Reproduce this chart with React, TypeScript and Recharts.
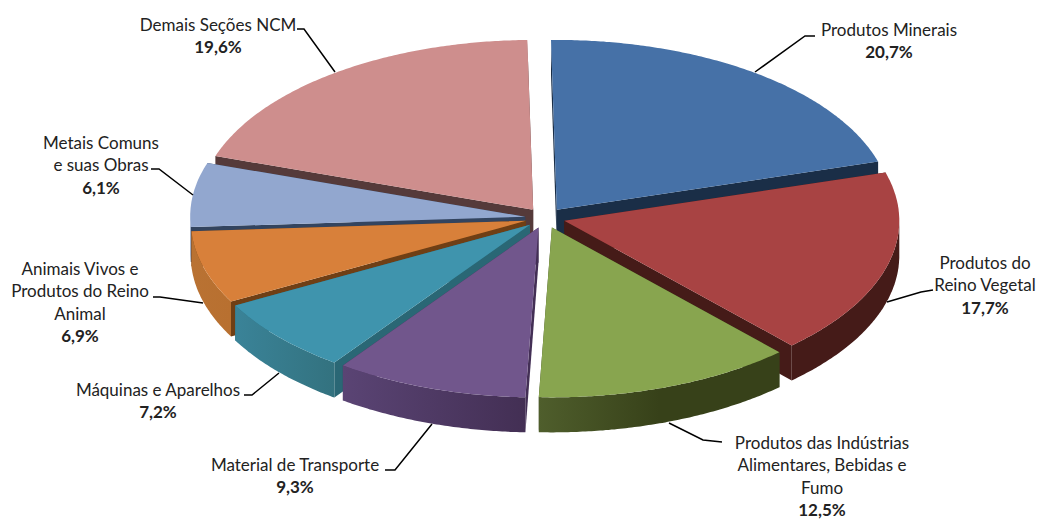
import { PieChart, Pie, Cell } from "recharts"

// right half of the pie, clockwise from the top
const rightNames = ["Produtos Minerais", "Produtos do\nReino Vegetal", "Produtos das Indústrias\nAlimentares, Bebidas e\nFumo"]
const rightValues = [20.7, 17.7, 12.5]
// left half, counter-clockwise from the top
const leftNames = ["Demais Seções NCM", "Metais Comuns\ne suas Obras", "Animais Vivos e\nProdutos do Reino\nAnimal", "Máquinas e Aparelhos", "Material de Transporte"]
const leftValues = [19.6, 6.1, 6.9, 7.2, 9.3]

const rightData = rightNames.map((name, i) => ({ name, value: rightValues[i] }))
const leftData = leftNames.map((name, i) => ({ name, value: leftValues[i] }))

const CX = 545
const CY = 218
const RX = 335
const TILT = 0.507
const DEPTH = 35
const EXPLODE = 20
const TOP_ANGLE = 91
const LINE_GAP = 22.6

const styles: Record<string, { top: string; cut: string; wall: [string, string]; mid: number }> = {
  "Produtos Minerais": { top: "#4671a7", cut: "#1a2e47", wall: ["#1a2e47", "#1a2e47"], mid: 100 },
  "Produtos do\nReino Vegetal": { top: "#a84343", cut: "#451b18", wall: ["#451b18", "#451b18"], mid: 100 },
  "Produtos das Indústrias\nAlimentares, Bebidas e\nFumo": { top: "#88a54f", cut: "#374119", wall: ["#4f5e2c", "#374119"], mid: 50 },
  "Demais Seções NCM": { top: "#ce8e8d", cut: "#553a3a", wall: ["#553a3a", "#553a3a"], mid: 100 },
  "Metais Comuns\ne suas Obras": { top: "#92a7cf", cut: "#33445f", wall: ["#7f93b8", "#7f93b8"], mid: 100 },
  "Animais Vivos e\nProdutos do Reino\nAnimal": { top: "#d8803a", cut: "#6f3f15", wall: ["#b97233", "#b87030"], mid: 100 },
  "Máquinas e Aparelhos": { top: "#3f94ad", cut: "#2a6775", wall: ["#3a8398", "#33727f"], mid: 100 },
  "Material de Transporte": { top: "#71568c", cut: "#432f55", wall: ["#5a4474", "#432f54"], mid: 100 },
}

// text block and leader line for each label
const labelLayout: Record<string, { x: number; y: number; line: number[][] }> = {
  "Produtos Minerais": { x: 889, y: 29, line: [[815, 36], [805, 36], [755, 72]] },
  "Produtos do\nReino Vegetal": { x: 985, y: 262, line: [[933, 290], [921, 292], [887, 302]] },
  "Produtos das Indústrias\nAlimentares, Bebidas e\nFumo": { x: 822, y: 442, line: [[722, 442], [703, 440], [669, 423]] },
  "Demais Seções NCM": { x: 218, y: 24, line: [[297, 29], [304, 29], [335, 72]] },
  "Metais Comuns\ne suas Obras": { x: 101, y: 142, line: [[151, 169], [159, 169], [193, 195]] },
  "Animais Vivos e\nProdutos do Reino\nAnimal": { x: 80, y: 268, line: [[153, 297], [160, 297], [203, 303]] },
  "Máquinas e Aparelhos": { x: 158, y: 389, line: [[244, 395], [252, 395], [279, 373]] },
  "Material de Transporte": { x: 295, y: 464, line: [[385, 470], [395, 470], [432, 424]] },
}

const gradId = (name: string) => "wall" + Object.keys(styles).indexOf(name)

function Slice(props: any) {
  const { cx, cy, outerRadius, startAngle, endAngle, midAngle, payload } = props
  const s = styles[payload.name]
  const rad = (d: number) => (d * Math.PI) / 180
  const ry = outerRadius * TILT
  const ox = cx + EXPLODE * Math.cos(rad(midAngle))
  const oy = cy - EXPLODE * TILT * Math.sin(rad(midAngle))
  const pt = (a: number) => [ox + outerRadius * Math.cos(rad(a)), oy - ry * Math.sin(rad(a))]
  const pts = (list: number[][]) => list.map((p) => p[0].toFixed(1) + "," + p[1].toFixed(1)).join(" ")
  const lo = Math.min(startAngle, endAngle)
  const hi = Math.max(startAngle, endAngle)

  const angles: number[] = []
  for (let a = lo; a < hi; a += 0.5) angles.push(a)
  angles.push(hi)
  const arc = angles.map(pt)
  const front = angles.filter((a) => Math.sin(rad(a)) <= 0.001).map(pt)
  const down = (p: number[]) => [p[0], p[1] + DEPTH]
  const face = (p: number[]) => pts([[ox, oy], p, down(p), [ox, oy + DEPTH]])

  return (
    <g>
      <polygon points={face(pt(startAngle))} fill={s.cut} />
      <polygon points={face(pt(endAngle))} fill={s.cut} />
      {front.length > 1 && <polygon points={pts([...front, ...front.map(down).reverse()])} fill={`url(#${gradId(payload.name)})`} />}
      <polygon points={pts([[ox, oy], ...arc])} fill={s.top} />
    </g>
  )
}

function SliceLabel(props: any) {
  const { name, value } = props
  const layout = labelLayout[name]
  if (!layout) return null
  const lines = name.split("\n")
  const pct = value.toFixed(1).replace(".", ",") + "%"
  return (
    <g style={{ fontFamily: "Lato", fontSize: 17 }}>
      <polyline points={layout.line.map((p) => p.join(",")).join(" ")} fill="none" stroke="#000" strokeWidth={1.5} />
      {lines.map((l: string, i: number) => (
        <text key={i} x={layout.x} y={layout.y + i * LINE_GAP} textAnchor="middle" dominantBaseline="central" fill="#222">
          {l}
        </text>
      ))}
      <text x={layout.x} y={layout.y + lines.length * LINE_GAP} textAnchor="middle" dominantBaseline="central" fontWeight={700} fill="#222">
        {pct}
      </text>
    </g>
  )
}

export default function App() {
  const leftSweep = leftValues.reduce((a, b) => a + b, 0) * 3.6
  const rightSweep = rightValues.reduce((a, b) => a + b, 0) * 3.6
  return (
    <div style={{ position: "absolute", left: 0, top: 0, background: "#fff" }}>
      <PieChart width={1038} height={519} margin={{ top: 0, right: 0, bottom: 0, left: 0 }}>
        <defs>
          {Object.entries(styles).map(([name, s]) => (
            <linearGradient key={name} id={gradId(name)} x1="0" y1="0" x2="1" y2="0">
              <stop offset="0%" stopColor={s.wall[0]} />
              <stop offset={s.mid + "%"} stopColor={s.wall[1]} />
            </linearGradient>
          ))}
        </defs>
        <Pie
          data={leftData}
          dataKey="value"
          nameKey="name"
          cx={CX}
          cy={CY}
          outerRadius={RX}
          startAngle={TOP_ANGLE}
          endAngle={TOP_ANGLE + leftSweep}
          shape={Slice}
          label={SliceLabel}
          labelLine={false}
          stroke="none"
          isAnimationActive={false}
        >
          {leftData.map((d) => (
            <Cell key={d.name} fill={styles[d.name].top} />
          ))}
        </Pie>
        <Pie
          data={rightData}
          dataKey="value"
          nameKey="name"
          cx={CX}
          cy={CY}
          outerRadius={RX}
          startAngle={TOP_ANGLE}
          endAngle={TOP_ANGLE - rightSweep}
          shape={Slice}
          label={SliceLabel}
          labelLine={false}
          stroke="none"
          isAnimationActive={false}
        >
          {rightData.map((d) => (
            <Cell key={d.name} fill={styles[d.name].top} />
          ))}
        </Pie>
      </PieChart>
    </div>
  )
}
